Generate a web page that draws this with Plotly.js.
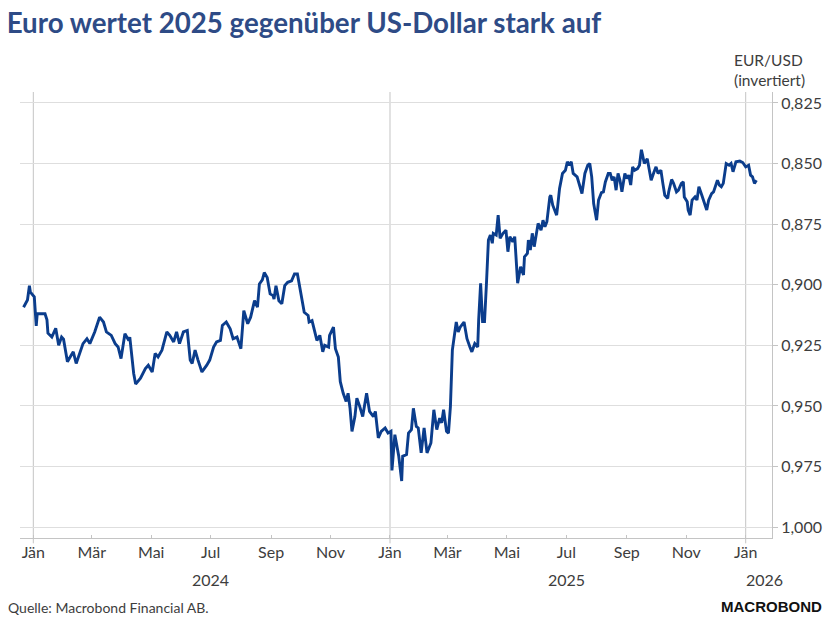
<!DOCTYPE html>
<html>
<head>
<meta charset="utf-8">
<script src="https://cdn.plot.ly/plotly-3.0.1.min.js"></script>
<style>
  html, body { margin: 0; padding: 0; background: #ffffff; }
  #chart { width: 830px; height: 623px; }
</style>
</head>
<body>
<div id="chart"></div>
<script>
// EUR/USD (invertiert)
const dates = [
  "2023-12-22","2023-12-26","2023-12-28","2023-12-29","2024-01-02","2024-01-03","2024-01-04","2024-01-05",
  "2024-01-10","2024-01-13","2024-01-15","2024-01-16","2024-01-20","2024-01-24","2024-01-27","2024-01-30",
  "2024-02-01","2024-02-05","2024-02-09","2024-02-11","2024-02-14","2024-02-18","2024-02-21","2024-02-25",
  "2024-02-28","2024-03-04","2024-03-09","2024-03-13","2024-03-16","2024-03-21","2024-03-25","2024-03-28",
  "2024-03-31","2024-04-04","2024-04-08","2024-04-09","2024-04-13","2024-04-15","2024-04-20","2024-04-25",
  "2024-04-28","2024-05-02","2024-05-05","2024-05-08","2024-05-12","2024-05-17","2024-05-20","2024-05-24",
  "2024-05-27","2024-05-30","2024-06-03","2024-06-07","2024-06-10","2024-06-12","2024-06-15","2024-06-18",
  "2024-06-22","2024-06-27","2024-06-30","2024-07-04","2024-07-07","2024-07-11","2024-07-13","2024-07-17",
  "2024-07-21","2024-07-24","2024-07-28","2024-08-01","2024-08-04","2024-08-08","2024-08-11","2024-08-15",
  "2024-08-18","2024-08-20","2024-08-23","2024-08-25","2024-08-28","2024-08-31","2024-09-03","2024-09-04",
  "2024-09-06","2024-09-09","2024-09-12","2024-09-15","2024-09-18","2024-09-22","2024-09-25","2024-09-28",
  "2024-10-02","2024-10-05","2024-10-09","2024-10-10","2024-10-13","2024-10-16","2024-10-18","2024-10-21",
  "2024-10-24","2024-10-26","2024-10-30","2024-10-31","2024-11-04","2024-11-06","2024-11-09","2024-11-11",
  "2024-11-14","2024-11-17","2024-11-19","2024-11-21","2024-11-23","2024-11-26","2024-11-28","2024-12-01",
  "2024-12-04","2024-12-08","2024-12-11","2024-12-15","2024-12-17","2024-12-20","2024-12-23","2024-12-27",
  "2024-12-30","2025-01-02","2025-01-03","2025-01-06","2025-01-08","2025-01-10","2025-01-13","2025-01-14",
  "2025-01-18","2025-01-20","2025-01-23","2025-01-25","2025-01-28","2025-01-30","2025-02-02","2025-02-05",
  "2025-02-08","2025-02-12","2025-02-15","2025-02-18","2025-02-21","2025-02-23","2025-02-25","2025-02-28",
  "2025-03-02","2025-03-04","2025-03-06","2025-03-08","2025-03-10","2025-03-12","2025-03-14","2025-03-18",
  "2025-03-21","2025-03-24","2025-03-26","2025-03-29","2025-04-01","2025-04-02","2025-04-04","2025-04-06",
  "2025-04-08","2025-04-10","2025-04-12","2025-04-14","2025-04-16","2025-04-17","2025-04-20","2025-04-22",
  "2025-04-24","2025-04-27","2025-04-30","2025-05-02","2025-05-04","2025-05-07","2025-05-09","2025-05-12",
  "2025-05-15","2025-05-18","2025-05-19","2025-05-22","2025-05-23","2025-05-25","2025-05-27","2025-05-29",
  "2025-05-31","2025-06-02","2025-06-05","2025-06-07","2025-06-09","2025-06-11","2025-06-14","2025-06-15",
  "2025-06-17","2025-06-19","2025-06-21","2025-06-22","2025-06-24","2025-06-27","2025-06-30","2025-07-02",
  "2025-07-04","2025-07-06","2025-07-08","2025-07-10","2025-07-12","2025-07-15","2025-07-17","2025-07-20",
  "2025-07-23","2025-07-25","2025-07-27","2025-07-29","2025-08-01","2025-08-03","2025-08-06","2025-08-08",
  "2025-08-10","2025-08-13","2025-08-15","2025-08-17","2025-08-19","2025-08-21","2025-08-23","2025-08-25",
  "2025-08-27","2025-08-30","2025-09-01","2025-09-03","2025-09-05","2025-09-07","2025-09-09","2025-09-12",
  "2025-09-14","2025-09-16","2025-09-18","2025-09-19","2025-09-22","2025-09-24","2025-09-26","2025-09-29",
  "2025-10-01","2025-10-03","2025-10-06","2025-10-08","2025-10-10","2025-10-13","2025-10-14","2025-10-17",
  "2025-10-19","2025-10-22","2025-10-24","2025-10-27","2025-10-29","2025-10-30","2025-11-02","2025-11-03",
  "2025-11-05","2025-11-07","2025-11-10","2025-11-12","2025-11-14","2025-11-17","2025-11-19","2025-11-22",
  "2025-11-24","2025-11-27","2025-11-29","2025-12-01","2025-12-03","2025-12-05","2025-12-07","2025-12-09",
  "2025-12-12","2025-12-15","2025-12-17","2025-12-19","2025-12-22","2025-12-26","2025-12-29","2026-01-01",
  "2026-01-04","2026-01-06","2026-01-08","2026-01-10","2026-01-12"
];
const eurusdInv = [
  0.9093,0.9063,0.9004,0.9031,0.9050,0.9134,0.9170,0.9120,
  0.9120,0.9120,0.9145,0.9200,0.9216,0.9180,0.9250,0.9216,
  0.9225,0.9318,0.9290,0.9277,0.9325,0.9277,0.9243,0.9223,
  0.9243,0.9195,0.9134,0.9154,0.9195,0.9209,0.9243,0.9257,
  0.9305,0.9202,0.9230,0.9216,0.9366,0.9410,0.9386,0.9346,
  0.9332,0.9360,0.9284,0.9298,0.9270,0.9195,0.9209,0.9236,
  0.9195,0.9243,0.9195,0.9189,0.9311,0.9325,0.9270,0.9311,
  0.9360,0.9332,0.9311,0.9257,0.9236,0.9230,0.9168,0.9154,
  0.9182,0.9223,0.9216,0.9264,0.9107,0.9161,0.9134,0.9066,
  0.9093,0.8997,0.8980,0.8950,0.8970,0.9038,0.9045,0.9059,
  0.9004,0.9066,0.9079,0.9004,0.8990,0.8984,0.8956,0.8956,
  0.9038,0.9114,0.9127,0.9154,0.9148,0.9195,0.9230,0.9209,
  0.9277,0.9250,0.9257,0.9209,0.9175,0.9264,0.9298,0.9400,
  0.9448,0.9482,0.9448,0.9510,0.9605,0.9544,0.9468,0.9503,
  0.9544,0.9448,0.9523,0.9544,0.9523,0.9632,0.9605,0.9591,
  0.9612,0.9605,0.9766,0.9619,0.9667,0.9708,0.9810,0.9708,
  0.9701,0.9612,0.9598,0.9510,0.9585,0.9591,0.9694,0.9591,
  0.9694,0.9653,0.9516,0.9598,0.9550,0.9570,0.9516,0.9605,
  0.9612,0.9503,0.9270,0.9202,0.9154,0.9195,0.9175,0.9154,
  0.9223,0.9257,0.9277,0.9243,0.9257,0.9145,0.8994,0.9152,
  0.9152,0.8994,0.8816,0.8795,0.8829,0.8788,0.8795,0.8713,
  0.8809,0.8788,0.8775,0.8864,0.8802,0.8823,0.8802,0.8994,
  0.8926,0.8960,0.8885,0.8871,0.8816,0.8857,0.8788,0.8843,
  0.8795,0.8747,0.8775,0.8734,0.8761,0.8740,0.8638,0.8631,
  0.8672,0.8692,0.8713,0.8679,0.8603,0.8541,0.8528,0.8493,
  0.8507,0.8493,0.8541,0.8548,0.8555,0.8596,0.8624,0.8541,
  0.8507,0.8500,0.8555,0.8665,0.8734,0.8651,0.8620,0.8617,
  0.8576,0.8541,0.8541,0.8569,0.8555,0.8610,0.8541,0.8569,
  0.8617,0.8541,0.8562,0.8548,0.8589,0.8514,0.8528,0.8521,
  0.8507,0.8443,0.8473,0.8500,0.8480,0.8521,0.8569,0.8534,
  0.8514,0.8541,0.8528,0.8582,0.8631,0.8644,0.8617,0.8566,
  0.8582,0.8617,0.8610,0.8582,0.8576,0.8638,0.8658,0.8692,
  0.8713,0.8651,0.8638,0.8651,0.8596,0.8631,0.8658,0.8692,
  0.8651,0.8624,0.8617,0.8596,0.8569,0.8589,0.8596,0.8582,
  0.8500,0.8507,0.8500,0.8534,0.8493,0.8490,0.8496,0.8514,
  0.8507,0.8548,0.8555,0.8582,0.8569
];
const monthTickDates = ["2024-01-01","2024-03-01","2024-05-01","2024-07-01","2024-09-01","2024-11-01",
                        "2025-01-01","2025-03-01","2025-05-01","2025-07-01","2025-09-01","2025-11-01","2026-01-01"];
const monthTickLabels = ["Jän","Mär","Mai","Jul","Sep","Nov","Jän","Mär","Mai","Jul","Sep","Nov","Jän"];
const yearLabels = ["2024","2025","2026"];
const yearLabelDates = ["2024-07-01","2025-07-01","2026-01-20"];
const yearLineDates = ["2024-01-01","2025-01-01","2026-01-01"];
const yTicks = [0.825,0.850,0.875,0.900,0.925,0.950,0.975,1.000];

const gray = "#c4c4c4";
const textCol = "#3d3d3d";

const trace = {
  x: dates, y: eurusdInv, type: "scatter", mode: "lines",
  line: { color: "#0b3d8c", width: 2.9 },
  hoverinfo: "skip"
};

const shapes = yearLineDates.map(d => ({
  type: "line", xref: "x", yref: "paper", x0: d, x1: d, y0: -0.012, y1: 1,
  line: { color: gray, width: 1 }, layer: "below"
}));

const annotations = yearLabels.map((t, i) => ({
  text: t, xref: "x", yref: "paper", x: yearLabelDates[i], y: -0.094,
  xanchor: "center", yanchor: "middle", showarrow: false,
  font: { size: 16, color: textCol }
}));
annotations.push({
  text: "EUR/USD<br>(invertiert)", xref: "paper", yref: "paper", x: 0.9464, y: 1.049,
  xanchor: "left", yanchor: "middle", align: "left", showarrow: false,
  font: { size: 15.5, color: textCol }
});
annotations.push({
  text: "Quelle: Macrobond Financial AB.", xref: "paper", yref: "paper", x: -0.018, y: -0.155,
  xanchor: "left", yanchor: "middle", showarrow: false,
  font: { size: 14, color: textCol }
});
annotations.push({
  text: "<b>MACROBOND</b>", xref: "paper", yref: "paper", x: 1.069, y: -0.154,
  xanchor: "right", yanchor: "middle", showarrow: false,
  font: { size: 15, color: "#111111", family: "Liberation Sans, Arial, sans-serif" }
});

const layout = {
  width: 830, height: 623,
  margin: { l: 20, r: 58, t: 92, b: 85 },
  paper_bgcolor: "#ffffff", plot_bgcolor: "#ffffff",
  separators: ",.",
  font: { family: "Lato, sans-serif", color: textCol, size: 16 },
  showlegend: false,
  title: {
    text: "<b>Euro wertet 2025 gegenüber US-Dollar stark auf</b>",
    xref: "container", yref: "container", x: 0.008, xanchor: "left",
    y: 0.962, yanchor: "middle",
    font: { family: "Lato, sans-serif", size: 27.7, color: "#2e4b86" }
  },
  xaxis: {
    type: "date",
    range: ["2023-12-18 08:00", "2026-01-28"],
    tickmode: "array", tickvals: monthTickDates, ticktext: monthTickLabels,
    ticks: "inside", ticklen: 3, tickcolor: gray,
    showgrid: false, zeroline: false,
    showline: true, linecolor: gray, linewidth: 1,
    tickfont: { size: 16, color: textCol }
  },
  yaxis: {
    side: "right",
    range: [1.0045, 0.8205],
    tickmode: "array", tickvals: yTicks, tickformat: ".3f",
    ticks: "outside", ticklen: 5, tickcolor: gray,
    showgrid: true, gridcolor: "#dedede", gridwidth: 1,
    zeroline: false,
    showline: true, linecolor: gray, linewidth: 1,
    tickfont: { size: 16, color: textCol }
  },
  shapes: shapes,
  annotations: annotations
};

Plotly.newPlot("chart", [trace], layout, { displayModeBar: false, staticPlot: true });
</script>
</body>
</html>
